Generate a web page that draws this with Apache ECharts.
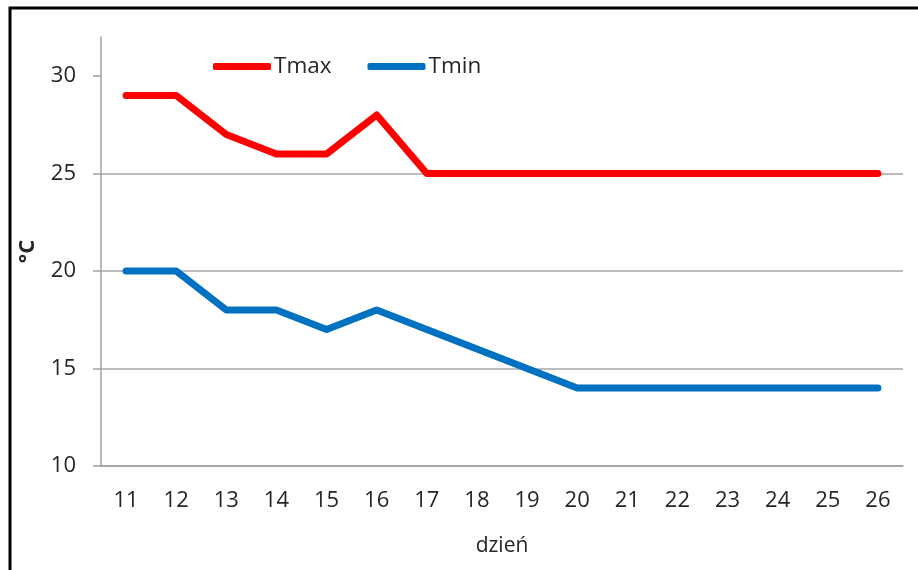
<!DOCTYPE html>
<html><head><meta charset="utf-8">
<script src="https://cdn.jsdelivr.net/npm/echarts@6/dist/echarts.min.js"></script>
<style>html,body{margin:0;padding:0;background:#fff;}#c{width:918px;height:570px;}</style>
</head><body><div id="c"></div>
<script>
const days = ['11','12','13','14','15','16','17','18','19','20','21','22','23','24','25','26'];
const tmax = [29,29,27,26,26,28,25,25,25,25,25,25,25,25,25,25];
const tmin = [20,20,18,18,17,18,17,16,15,14,14,14,14,14,14,14];
const yTicks = [10,15,20,25,30];
const FONT = 'Open Sans';
const TXT = '#262626';
const AX = '#A0A0A0';
const chart = echarts.init(document.getElementById('c'), null, {renderer:'canvas'});
chart.setOption({
  animation:false,
  backgroundColor:'#fff',
  textStyle:{fontFamily:FONT},
  graphic:[{type:'rect', shape:{x:10,y:8,width:1000,height:1000}, style:{fill:'none',stroke:'#000',lineWidth:3}, silent:true}],
  grid:{left:101,right:15,top:37,bottom:104},
  legend:{
    left:208, top:50, itemWidth:58, itemHeight:7, itemGap:36, icon:'roundRect',
    textStyle:{fontFamily:FONT,fontSize:22.5,color:TXT,padding:[0,0,0,-2]},
    data:['Tmax','Tmin']
  },
  xAxis:{
    type:'category', data:days,
    name:'dzień', nameLocation:'middle', nameGap:70,
    nameTextStyle:{fontFamily:FONT,fontSize:21,color:TXT},
    axisLine:{lineStyle:{color:AX,width:1.5}},
    axisTick:{length:8,lineStyle:{color:AX,width:1.5}},
    axisLabel:{fontFamily:FONT,fontSize:22,color:TXT,margin:24}
  },
  yAxis:{
    type:'value', min:10, max:32,
    name:'°C', nameLocation:'middle', nameGap:62, nameRotate:90,
    nameTextStyle:{fontFamily:FONT,fontSize:22,fontWeight:'bold',color:TXT},
    axisLine:{show:true,lineStyle:{color:AX,width:1.5}},
    axisTick:{show:true,length:8,customValues:yTicks,lineStyle:{color:AX,width:1.5}},
    axisLabel:{fontFamily:FONT,fontSize:22,color:TXT,margin:25,customValues:yTicks},
    splitLine:{show:true,showMaxLine:false,lineStyle:{color:'#A6A6A6',width:1.5}}
  },
  series:[
    {name:'Tmax',type:'line',data:tmax,symbol:'none',color:'#FF0000',lineStyle:{width:7,color:'#FF0000',cap:'round',join:'round'}},
    {name:'Tmin',type:'line',data:tmin,symbol:'none',color:'#0070C0',lineStyle:{width:7,color:'#0070C0',cap:'round',join:'round'}}
  ]
});
</script></body></html>
